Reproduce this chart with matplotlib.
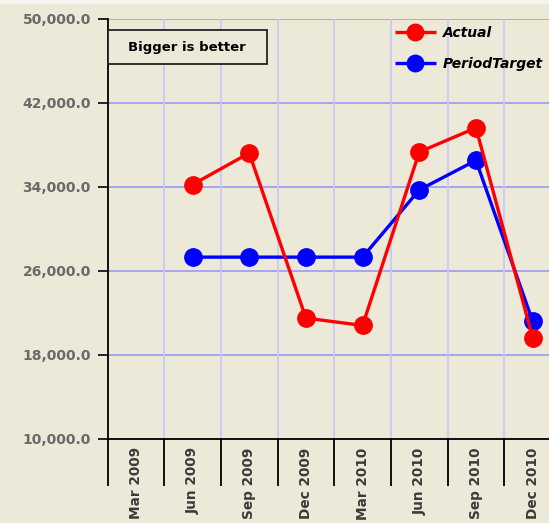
import matplotlib
matplotlib.use("Agg")
import matplotlib.pyplot as plt
import numpy as np

categories = ["Mar 2009", "Jun 2009", "Sep 2009", "Dec 2009", "Mar 2010",
              "Jun 2010", "Sep 2010", "Dec 2010"]
actual = [np.nan, 34200, 37200, 21500, 20800, 37300, 39600, 19650]
period_target = [np.nan, 27300, 27300, 27300, 27300, 33700, 36500, 21200]
y_ticks = [10000, 18000, 26000, 34000, 42000, 50000]

BG = "#ECE9D8"
W, H = 549, 523
fig = plt.figure(figsize=(W / 100, H / 100), dpi=100, facecolor=BG)
# thin light strip at the top
fig.add_artist(plt.Rectangle((0, 1 - 3 / H), 1, 3 / H, transform=fig.transFigure,
                             color="#F6F4EC", zorder=0))

left, right, top, bottom = 107.5, 561, 18.5, 439
ax = fig.add_axes([left / W, (H - bottom) / H, (right - left) / W, (bottom - top) / H])
ax.set_facecolor(BG)

x = np.arange(len(categories))
ax.set_xlim(-0.5, len(categories) - 0.5)
ax.set_ylim(10000, 50000)

# grid
for yv in y_ticks:
    ax.axhline(yv, color="#A0A0F4", lw=1.3, zorder=1)
for b in np.arange(0.5, len(categories) - 0.5, 1.0):
    ax.axvline(b, color="#C8C8F8", lw=1.3, zorder=1)

ax.plot(x, actual, color="#FF0000", lw=2.4, marker="o", ms=12.5, zorder=3,
        label="Actual", solid_capstyle="butt")
ax.plot(x, period_target, color="#0000FF", lw=2.4, marker="o", ms=12.5, zorder=2,
        label="PeriodTarget", solid_capstyle="butt")

for s in ["top", "right"]:
    ax.spines[s].set_visible(False)
for s in ["left", "bottom"]:
    ax.spines[s].set_color("black")
    ax.spines[s].set_linewidth(1.3)
    ax.spines[s].set_zorder(6)

ax.set_yticks(y_ticks)
ax.set_yticklabels([f"{v:,.1f}" for v in y_ticks], fontsize=10, fontweight="bold",
                   color="#6A6A6A")
ax.tick_params(axis="y", length=7, width=1.2, pad=5, color="black")

ax.set_xticks(x)
ax.set_xticklabels(categories, rotation=90, fontsize=9.8, fontweight="bold",
                   color="#3A3A3A", va="top")
ax.tick_params(axis="x", which="major", length=0, pad=6)
ax.set_xticks(np.arange(-0.5, len(categories), 1.0), minor=True)
ax.tick_params(axis="x", which="minor", length=34, width=1.3, color="black")

# annotation box
bx0, bx1, by0, by1 = 107.5, 267, 30, 64
fig.add_artist(plt.Rectangle((bx0 / W, 1 - by1 / H), (bx1 - bx0) / W, (by1 - by0) / H,
                             transform=fig.transFigure, fc=BG, ec="#222222",
                             lw=1.3, zorder=5))
fig.text((bx0 + bx1) / 2 / W, 1 - (by0 + by1) / 2 / H, "Bigger is better",
         ha="center", va="center", fontsize=9.5, fontweight="bold",
         color="black", zorder=6)

leg = ax.legend(loc="upper left", bbox_to_anchor=((389 - left) / (right - left),
                1 - (20 - top) / (bottom - top)),
                frameon=False, prop=dict(weight="bold", style="italic", size=10),
                handlelength=3.0, handletextpad=0.5, labelspacing=1.25,
                borderaxespad=0, markerscale=0.95)

fig.savefig("out.png", dpi=100, facecolor=BG)
